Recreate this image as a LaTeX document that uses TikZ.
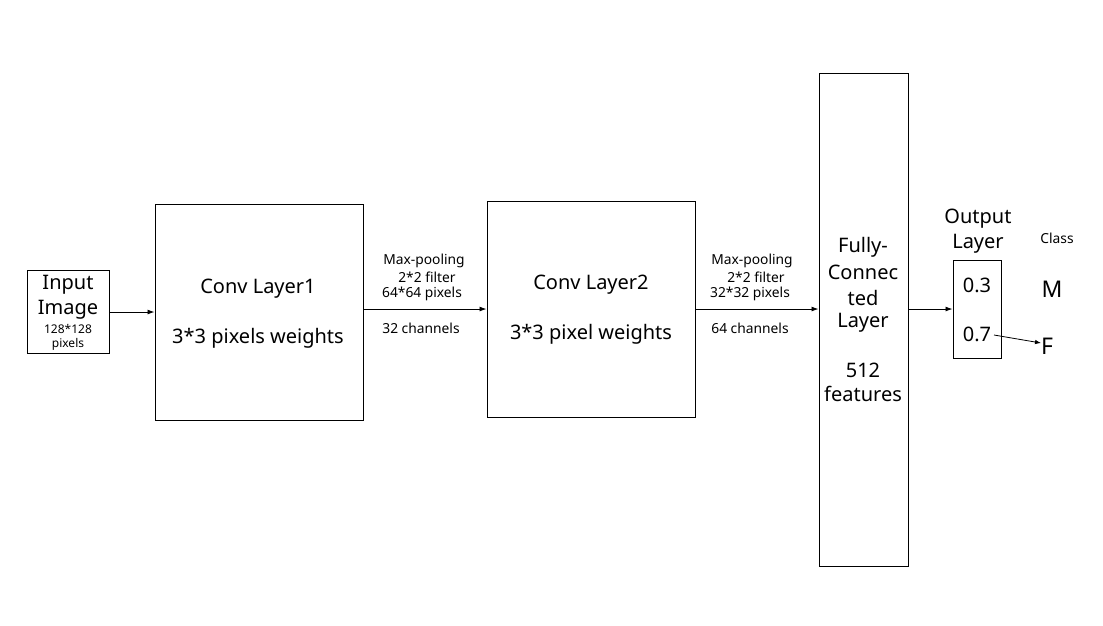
\documentclass[tikz,border=0pt]{standalone}
\usepackage{fontspec}
\setmainfont{Noto Sans}
\usetikzlibrary{arrows.meta}
\begin{document}
\begin{tikzpicture}[x=1pt,y=-1pt,
  box/.style={draw,line width=1pt,inner sep=0pt},
  big/.style={font=\fontsize{20}{24}\selectfont,inner sep=0pt},
  small/.style={font=\fontsize{13.8}{16}\selectfont,inner sep=0pt},
  tiny/.style={font=\fontsize{12}{14}\selectfont,inner sep=0pt},
  conn/.style={line width=0.9pt,-{Latex[length=7pt,width=5pt]}}]
\useasboundingbox[fill=white] (0,0) rectangle (1103,625);
% boxes
\node[box,minimum width=82pt,minimum height=83pt] (in) at (68,311.5) {};
\node[box,minimum width=208pt,minimum height=216pt] (c1) at (259,312) {};
\node[box,minimum width=208pt,minimum height=216pt] (c2) at (591,309) {};
\node[box,minimum width=89pt,minimum height=493pt] (fc) at (863.5,319.5) {};
\node[box,minimum width=48pt,minimum height=98pt] (out) at (977,309) {};
% input texts
\node[big] at (68,285) {Input};
\node[big] at (68,310) {Image};
\node[tiny] at (68,329) {128*128};
\node[tiny] at (68,344) {pixels};
% conv1
\node[big] at (258,289) {Conv Layer1};
\node[big] at (258,338) {3*3 pixels weights};
% pool1
\node[small] at (424,261) {Max-pooling};
\node[small] at (427,277) {2*2 filter};
\node[small] at (422,294) {64*64 pixels};
\node[small] at (421,328) {32 channels};
% conv2
\node[big] at (591,285) {Conv Layer2};
\node[big] at (591,334) {3*3 pixel weights};
% pool2
\node[small] at (752,261) {Max-pooling};
\node[small] at (756,277) {2*2 filter};
\node[small] at (750,294) {32*32 pixels};
\node[small] at (750,328) {64 channels};
% fc
\node[big] at (863,247) {Fully-};
\node[big] at (863,272) {Connec};
\node[big] at (863,298) {ted};
\node[big] at (863,323) {Layer};
\node[big] at (863,370) {512};
\node[big] at (863,394) {features};
% output
\node[big] at (978,219) {Output};
\node[big] at (978,244) {Layer};
\node[small] at (1057,238) {Class};
\node[big] (p3) at (977,285) {0.3};
\node[big] (p7) at (977,334) {0.7};
\node[big,font=\fontsize{23}{27}\selectfont] (M) at (1052,289) {M};
\node[big,font=\fontsize{23}{27}\selectfont] (F) at (1047,346) {F};
% connectors
\draw[conn] (in.east |- 0,312) -- (c1.west |- 0,312);
\draw[conn] (c1.east |- 0,309) -- (c2.west |- 0,309);
\draw[conn] (c2.east |- 0,309) -- (fc.west |- 0,309);
\draw[conn] (fc.east |- 0,309) -- (out.west |- 0,309);
\draw[line width=0.8pt,-{Latex[length=6pt,width=4.5pt]}] (994,335) -- (1041,343);
\end{tikzpicture}
\end{document}
